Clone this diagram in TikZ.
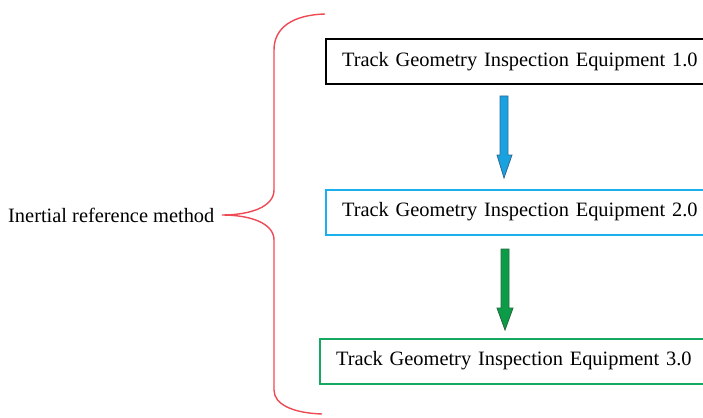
\documentclass[tikz,border=0pt]{standalone}
\usepackage{fontspec}
\setmainfont{Liberation Serif}
\definecolor{bracered}{HTML}{EE4A55}
\definecolor{boxblue}{HTML}{1AB0EC}
\definecolor{boxgreen}{HTML}{14A860}
\definecolor{arrblue}{HTML}{1AA2E0}
\definecolor{arrblueline}{HTML}{2F6A95}
\definecolor{arrgreen}{HTML}{0C9C48}
\definecolor{arrgreenline}{HTML}{236B3E}
\begin{document}
\begin{tikzpicture}[x=1pt,y=-1pt,
  eqbox/.style={draw, line width=2pt, anchor=west, minimum width=420pt,
    minimum height=45pt, inner xsep=16pt, align=left, text width=388pt,
    font=\fontsize{20.4}{24}\selectfont},
  fatarrow/.style={line width=0.8pt},
  bracepath/.style={draw=bracered, line width=1.4pt}]
\useasboundingbox (0,0) rectangle (703,417);
\clip (0,0) rectangle (703,417);
\node[eqbox, draw=black] (e1) at (325,62) {Track Geometry Inspection Equipment 1.0};
\node[eqbox, draw=boxblue] (e2) at (325,212) {Track Geometry Inspection Equipment 2.0};
\node[eqbox, draw=boxgreen] (e3) at (319,361) {Track Geometry Inspection Equipment 3.0};
\node[anchor=west, inner sep=0pt, font=\fontsize{20.4}{24}\selectfont] (lab) at (8,215) {Inertial reference method};
\coordinate (tip) at (222,215);
\coordinate (btop) at (325,14);
\coordinate (bbot) at (322,414);
\draw[bracepath] (btop) .. controls (292,15) and (274,28) .. (274,50) -- (274,190)
  .. controls (274,207) and (250,215) .. (tip)
  .. controls (250,215) and (274,223) .. (274,240) -- (274,390)
  .. controls (274,404) and (292,413) .. (bbot);
\draw[fatarrow, draw=arrblueline, fill=arrblue]
  (500,96) -- (508,96) -- (508,155) -- (512,155) -- (504,178) -- (497,155) -- (500,155) -- cycle;
\draw[fatarrow, draw=arrgreenline, fill=arrgreen]
  (501,249) -- (509,249) -- (509,308) -- (513,308) -- (505,330) -- (497,308) -- (501,308) -- cycle;
\end{tikzpicture}
\end{document}
